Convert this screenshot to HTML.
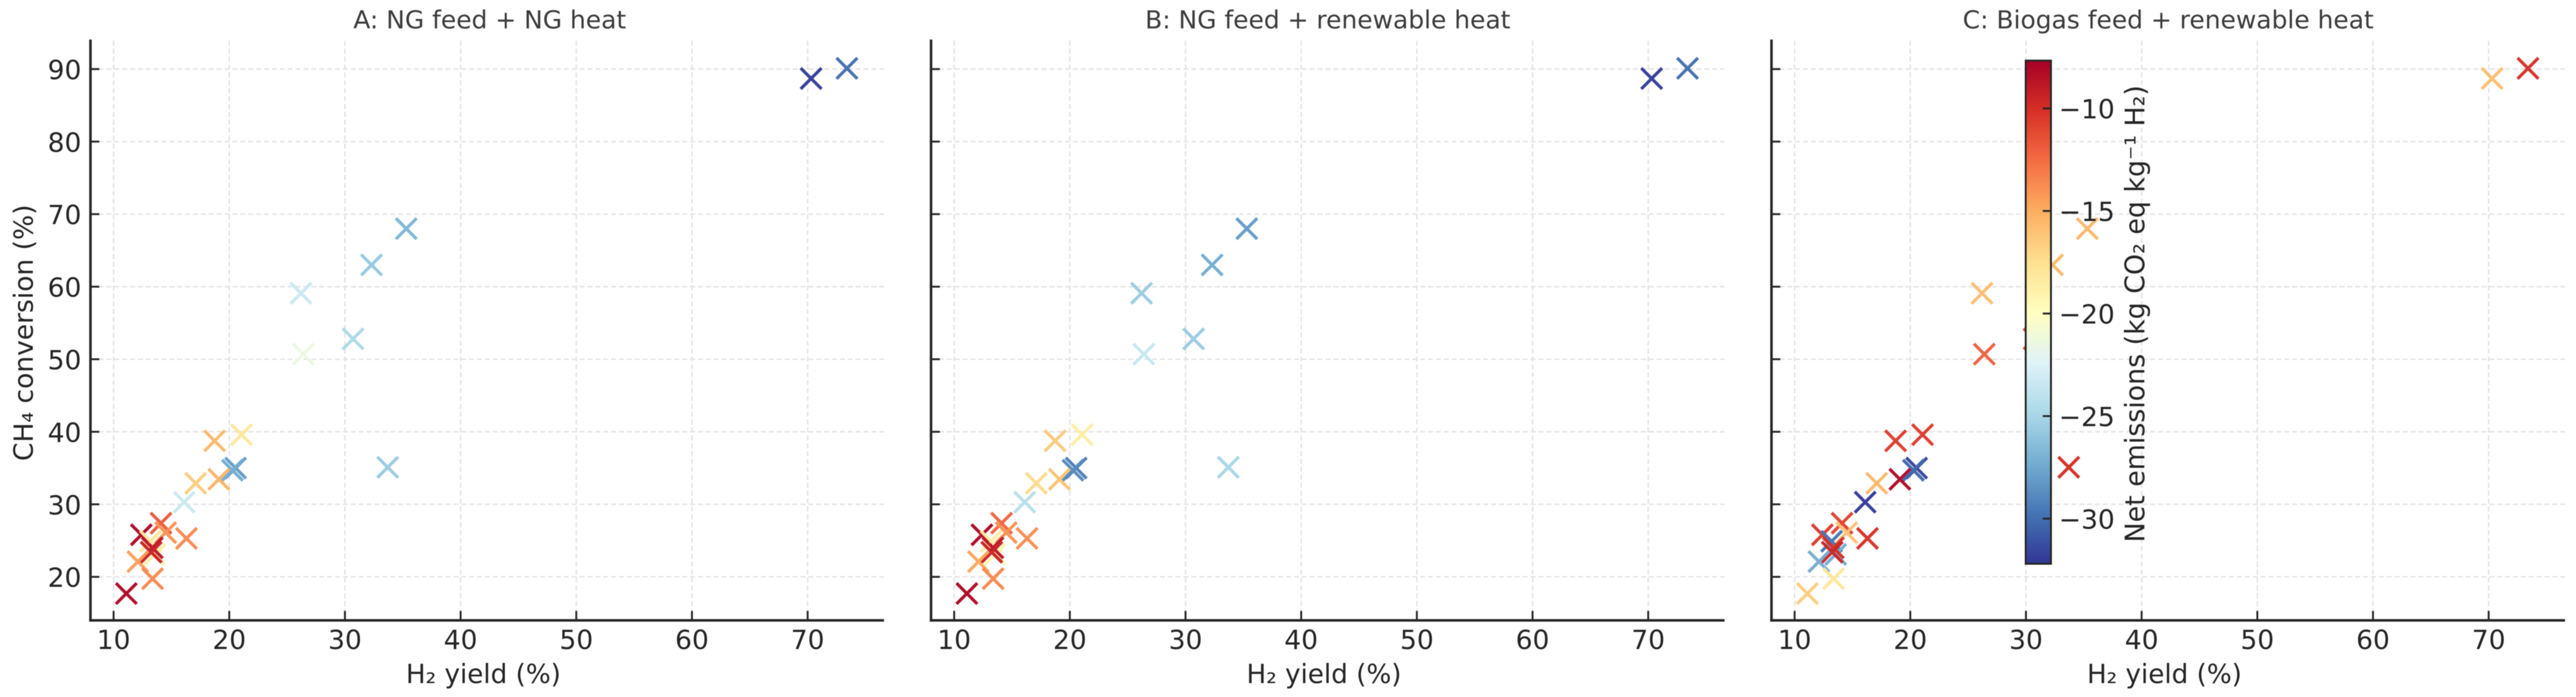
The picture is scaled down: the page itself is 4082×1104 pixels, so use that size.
<!DOCTYPE html>
<html lang="en">
<head>
<meta charset="utf-8">
<title>Net emissions scatter panels</title>
<style>
html,body{margin:0;padding:0;background:#fff;}
body{width:4082px;height:1104px;overflow:hidden;}
svg{display:block;filter:blur(.6px);}
text{font-family:"DejaVu Sans","Liberation Sans",sans-serif;}
</style>
</head>
<body>
<svg id="chart" xmlns="http://www.w3.org/2000/svg" width="4082" height="1104" viewBox="0 0 4082 1104">
<defs><linearGradient id="cbar-gradient" x1="0" y1="1" x2="0" y2="0"></linearGradient></defs>
<rect x="0" y="0" width="4082" height="1104" fill="#ffffff"/>
</svg>
<script>
// ---- data ----
const panelTitles = ["A: NG feed + NG heat", "B: NG feed + renewable heat", "C: Biogas feed + renewable heat"];
const h2Yield = [70.3,73.4,35.3,32.3,26.2,30.7,26.4,33.7,21.06,18.73,20.55,20.27,19.1,17.1,16.1,14.1,14.5,16.3,12.4,13.2,13.55,13.35,13.25,12.1,13.37,11.1];
const ch4Conversion = [88.7,90.1,68,63,59.1,52.8,50.7,35.1,39.6,38.75,35,34.7,33.45,32.9,30.3,27.4,26.1,25.3,25.8,24.9,23.1,24,23.4,22.1,19.75,17.7];
const emissionsA = [-31.9,-30,-26.8,-25.8,-23.4,-24.8,-21.4,-25.6,-18,-15.5,-28,-27.3,-15.3,-16.5,-23.4,-11.8,-14,-13.6,-8.1,-18,-18.7,-8.9,-9.4,-14.5,-13.6,-8.1];
const emissionsB = [-31.9,-30,-28,-27.3,-25.6,-25.6,-23.6,-25,-18.5,-16.3,-29.3,-28.8,-16,-17.2,-24.3,-12.3,-14,-13.8,-8.1,-18.5,-19.2,-8.9,-9.4,-14.8,-13.6,-8.1];
const emissionsC = [-15.8,-10.1,-15.5,-15.5,-15.8,-11.3,-12.1,-10.1,-10.6,-10.6,-31.5,-30.2,-8.2,-15.5,-32,-10.9,-16,-10.1,-10.6,-29.7,-27.3,-10.1,-9.6,-27.3,-18,-16.5];
const xTickValues = [10,20,30,40,50,60,70];
const yTickValues = [20,30,40,50,60,70,80,90];
const colorbarTickValues = [-10,-15,-20,-25,-30];
const colormapAnchors = ["#313695","#4575b4","#74add1","#abd9e9","#e0f3f8","#ffffbf","#fee090","#fdae61","#f46d43","#d73027","#a50026"];

// ---- layout ----
const panelX10 = [180, 1512, 2843.8];
const pxPerX = 18.33, pxPerY = 11.49, y20 = 913.7;
const xDomain = [8, 76.6], yDomain = [14, 93.9];
const cbarDomain = [-32.2, -7.67];
const cbarBox = {x:3210, w:40, top:96, bottom:893};

const svg = document.getElementById('chart');
const NS = 'http://www.w3.org/2000/svg';
function mk(tag, attrs, parent, txt){
  const el = document.createElementNS(NS, tag);
  for (const k in attrs) el.setAttribute(k, attrs[k]);
  if (txt !== undefined) el.textContent = txt;
  (parent || svg).appendChild(el);
  return el;
}
function xScale(p, v){ return panelX10[p] + (v - 10) * pxPerX; }
function yScale(v){ return y20 - (v - 20) * pxPerY; }
function cbarScale(v){
  return cbarBox.bottom - (v - cbarDomain[0]) / (cbarDomain[1] - cbarDomain[0]) * (cbarBox.bottom - cbarBox.top);
}
function hexRgb(h){ return [parseInt(h.slice(1,3),16),parseInt(h.slice(3,5),16),parseInt(h.slice(5,7),16)]; }
function colorFor(v){
  let t = (v - cbarDomain[0]) / (cbarDomain[1] - cbarDomain[0]);
  t = Math.max(0, Math.min(1, t)) * (colormapAnchors.length - 1);
  const i = Math.min(Math.floor(t), colormapAnchors.length - 2), f = t - i;
  const a = hexRgb(colormapAnchors[i]), b = hexRgb(colormapAnchors[i + 1]);
  return 'rgb(' + a.map((c, n) => Math.round(c + (b[n] - c) * f)).join(',') + ')';
}
function fmt(v){ return v < 0 ? '\u2212' + Math.abs(v) : String(v); }

const emissionsByPanel = [emissionsA, emissionsB, emissionsC];
const DARK = '#262626';

panelTitles.forEach(function(title, p){
  const g = mk('g', {});
  
  
  const left = xScale(p, xDomain[0]), right = xScale(p, xDomain[1]);
  const top = yScale(yDomain[1]), bottom = yScale(yDomain[0]);

  xTickValues.forEach(function(v){
    const line = mk('line', {x1:xScale(p,v), x2:xScale(p,v), y1:top, y2:bottom, stroke:'#e2e2e2', 'stroke-width':2.2, 'stroke-dasharray':'8 4.5'}, g);
    
    
  });
  yTickValues.forEach(function(v){
    const line = mk('line', {x1:left, x2:right, y1:yScale(v), y2:yScale(v), stroke:'#e2e2e2', 'stroke-width':2.2, 'stroke-dasharray':'8 4.5'}, g);
    
    
  });

  h2Yield.forEach(function(xv, i){
    const cx = xScale(p, xv), cy = yScale(ch4Conversion[i]), s = 16.5;
    const d = 'M' + (cx-s) + ' ' + (cy-s) + 'L' + (cx+s) + ' ' + (cy+s) + 'M' + (cx-s) + ' ' + (cy+s) + 'L' + (cx+s) + ' ' + (cy-s);
    const mark = mk('path', {d:d, fill:'none', stroke:colorFor(emissionsByPanel[p][i]), 'stroke-width':5, 'stroke-opacity':0.97}, g);
    
    
  });

  const sl = mk('line', {x1:left, x2:left, y1:top-2, y2:bottom+2, stroke:DARK, 'stroke-width':4}, g);
  
  
  const sb = mk('line', {x1:left-2, x2:right, y1:bottom, y2:bottom, stroke:DARK, 'stroke-width':4}, g);
  
  

  xTickValues.forEach(function(v){
    const t = mk('line', {x1:xScale(p,v), x2:xScale(p,v), y1:bottom, y2:bottom-15, stroke:DARK, 'stroke-width':3}, g);
    
    
    const lab = mk('text', {x:xScale(p,v), y:1028, 'text-anchor':'middle', 'font-size':42, fill:DARK}, g, String(v));
    
    
  });
  yTickValues.forEach(function(v){
    const t = mk('line', {x1:left, x2:left+14, y1:yScale(v), y2:yScale(v), stroke:DARK, 'stroke-width':3}, g);
    
    
    if (p === 0) {
      const lab = mk('text', {x:129, y:yScale(v)+16, 'text-anchor':'end', 'font-size':42, fill:DARK}, g, String(v));
      
      
    }
  });

  const tt = mk('text', {x:(left+right)/2 + (p === 0 ? 4 : 0), y:45, 'text-anchor':'middle', 'font-size':39.5, fill:'#3d3d3d'}, g, title);
  
  
  const xl = mk('text', {x:(left+right)/2 - 6, y:1082, 'text-anchor':'middle', 'font-size':41.5, fill:DARK}, g, 'H\u2082 yield (%)');
  
  
});

const yl = mk('text', {x:0, y:0, transform:'translate(52,527) rotate(-90)', 'text-anchor':'middle', 'font-size':42, fill:DARK}, svg, 'CH\u2084 conversion (%)');



// colorbar
const grad = document.getElementById('cbar-gradient');
colormapAnchors.forEach(function(c, i){
  mk('stop', {offset:(i / (colormapAnchors.length - 1)), 'stop-color':c}, grad);
});
const cb = mk('g', {});


const cbr = mk('rect', {x:cbarBox.x, y:cbarBox.top, width:cbarBox.w, height:cbarBox.bottom-cbarBox.top, fill:'url(#cbar-gradient)', stroke:DARK, 'stroke-width':3}, cb);


colorbarTickValues.forEach(function(v){
  const y = cbarScale(v);
  const t = mk('line', {x1:cbarBox.x+cbarBox.w-13, x2:cbarBox.x+cbarBox.w, y1:y, y2:y, stroke:DARK, 'stroke-width':3}, cb);
  
  
  const lab = mk('text', {x:3262.5, y:y+16, 'font-size':42, fill:DARK}, cb, fmt(v));
  
  
});
const cbl = mk('text', {x:0, y:0, transform:'translate(3398,497) rotate(-90)', 'text-anchor':'middle', 'font-size':42.5, fill:DARK}, cb, 'Net emissions (kg CO\u2082 eq kg\u207B\u00B9 H\u2082)');


</script>
</body>
</html>
